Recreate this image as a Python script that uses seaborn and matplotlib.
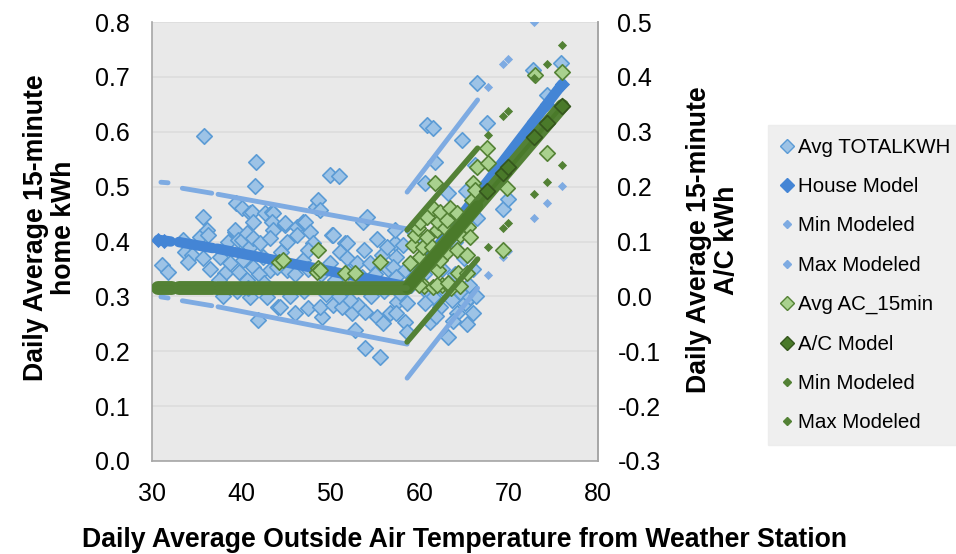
import numpy as np
import pandas as pd
import matplotlib
matplotlib.use("Agg")
import matplotlib.pyplot as plt
import seaborn as sns
from matplotlib.lines import Line2D

# ---------------- data ----------------
# Avg TOTALKWH (left axis)
tot_x = [31.1, 31.8, 33.5, 34.3, 33.7, 34.5, 35.7, 34.0, 35.4, 35.7, 36.2, 36.3, 35.8, 38.2, 37.6,
         38.5, 39.3, 39.4, 39.3, 39.6, 40.1, 40.1, 40.6, 41.0, 41.0, 41.2, 41.3, 41.3, 41.3, 40.2,
         41.5, 41.7, 42.1, 42.4, 42.7, 43.4, 43.6, 43.4, 43.6, 43.2, 43.2, 41.0, 41.9, 42.9, 44.1,
         44.9, 44.9, 45.1, 45.1, 44.0, 44.3, 36.5, 37.5, 38.8, 39.8, 40.6, 42.0, 38.0, 39.5, 40.8,
         42.5,
         46.2, 46.3, 46.9, 47.1, 47.7, 48.0, 48.4, 48.6, 48.8, 50.0, 51.0, 50.2, 50.3, 51.6, 51.9,
         51.1, 51.9, 53.0, 54.4, 55.8, 50.0, 46.9, 53.7, 54.1, 55.2, 57.2, 57.2, 46.0, 47.5, 49.1,
         48.8, 50.3, 51.3, 52.4, 53.1, 53.9, 55.2, 55.9, 56.7, 52.8, 53.9, 55.6, 52.2, 46.0, 47.5,
         49.0, 50.5, 52.0, 53.5, 55.0, 56.5, 45.5, 47.0, 49.5, 51.0, 54.5, 56.0, 57.5, 44.5, 47.5,
         53.8, 56.3,
         58.1, 57.4, 57.0, 58.4, 57.4, 57.8, 58.6, 57.4, 58.4, 58.6, 60.8, 61.5, 60.6, 62.3, 63.6,
         64.5, 65.1, 65.7, 64.2, 61.2, 63.2, 60.6, 61.7, 60.8, 61.5, 63.2, 65.2, 64.8, 66.4, 66.2,
         66.4, 67.6, 69.4, 69.9, 72.7, 75.9, 74.3, 59.3, 60.0, 61.0, 62.0, 63.0, 64.0, 65.0, 66.0,
         59.5, 60.5, 62.5, 64.0, 65.5, 66.3, 59.0, 62.8, 63.8, 65.3, 61.8, 66.0]
tot_y = [0.357, 0.344, 0.403, 0.390, 0.381, 0.375, 0.370, 0.363, 0.408, 0.445, 0.421, 0.412, 0.592, 0.343, 0.372,
         0.399, 0.417, 0.470, 0.421, 0.403, 0.461, 0.403, 0.415, 0.452, 0.390, 0.454, 0.436, 0.406, 0.354, 0.366,
         0.501, 0.545, 0.397, 0.372, 0.452, 0.454, 0.452, 0.436, 0.421, 0.348, 0.406, 0.299, 0.257, 0.299, 0.281,
         0.430, 0.434, 0.399, 0.348, 0.354, 0.281, 0.350, 0.330, 0.360, 0.345, 0.330, 0.340, 0.300, 0.310, 0.315,
         0.325,
         0.427, 0.412, 0.436, 0.436, 0.417, 0.397, 0.463, 0.476, 0.457, 0.521, 0.520, 0.412, 0.412, 0.397, 0.397,
         0.381, 0.370, 0.361, 0.361, 0.375, 0.361, 0.366, 0.436, 0.445, 0.404, 0.397, 0.421, 0.270, 0.279, 0.262,
         0.281, 0.284, 0.281, 0.270, 0.284, 0.272, 0.262, 0.251, 0.270, 0.239, 0.206, 0.190, 0.293, 0.340, 0.350,
         0.340, 0.330, 0.345, 0.335, 0.340, 0.350, 0.300, 0.310, 0.305, 0.300, 0.300, 0.310, 0.290, 0.380, 0.385,
         0.385, 0.390,
         0.394, 0.372, 0.354, 0.348, 0.335, 0.306, 0.288, 0.270, 0.253, 0.235, 0.308, 0.299, 0.288, 0.281, 0.293,
         0.308, 0.288, 0.299, 0.270, 0.253, 0.226, 0.507, 0.545, 0.612, 0.607, 0.488, 0.492, 0.585, 0.689, 0.539,
         0.443, 0.616, 0.459, 0.477, 0.713, 0.725, 0.667, 0.420, 0.400, 0.370, 0.390, 0.410, 0.400, 0.370, 0.350,
         0.350, 0.340, 0.350, 0.340, 0.320, 0.300, 0.320, 0.310, 0.255, 0.250, 0.265, 0.270]

# House Model (left axis): dense segments + sparse high-temperature points
house_x = [30.7, 32.1, 33.0, 36.8, 37.3, 58.6, 76.0]
house_y = [0.403, 0.400, 0.399, 0.388, 0.387, 0.318, 0.687]
house_seg = [0, 0, 1, 1, 2, 2, 2]
house_pts_x = [30.7, 31.4, 67.7, 69.4, 69.9, 72.8, 74.3, 76.0]
house_pts_y = [0.403, 0.401, 0.510, 0.545, 0.556, 0.619, 0.650, 0.687]

# Min / Max Modeled house (left axis)
hmin_x = [31.0, 31.8, 33.4, 36.7, 37.4, 58.6, 58.6, 66.5]
hmin_y = [0.299, 0.297, 0.292, 0.283, 0.281, 0.213, 0.151, 0.315]
hmin_seg = [0, 0, 1, 1, 2, 2, 3, 3]
hmin_pts_x = [67.7, 69.4, 69.9, 72.8, 74.3, 76.0]
hmin_pts_y = [0.339, 0.372, 0.382, 0.443, 0.470, 0.501]

hmax_x = [31.0, 31.8, 33.4, 36.7, 37.4, 58.6, 58.6, 66.5]
hmax_y = [0.508, 0.507, 0.497, 0.488, 0.486, 0.423, 0.490, 0.658]
hmax_seg = [0, 0, 1, 1, 2, 2, 3, 3]
hmax_pts_x = [67.7, 69.4, 69.9, 72.8]
hmax_pts_y = [0.682, 0.723, 0.733, 0.800]

# Avg AC_15min (right axis)
ac_x = [44.2, 44.7, 48.6, 48.6, 48.5, 48.8, 51.6, 52.8, 55.6,
        58.9, 59.0, 60.5, 61.5, 62.5, 63.5, 64.5,
        59.3, 59.5, 59.8, 60.0, 60.0, 60.4, 60.8, 60.8, 61.4, 61.5, 61.7, 62.0, 62.1, 62.1,
        62.3, 62.3, 62.9, 63.1, 63.1, 63.4, 64.2, 64.2, 64.3, 64.5, 65.3, 65.3, 65.4, 65.6,
        65.9, 66.0, 66.2, 66.4, 67.6, 67.7, 69.4, 69.8, 72.9, 74.3, 76.0, 59.9, 62.0, 63.2]
ac_y = [0.063, 0.066, 0.084, 0.052, 0.045, 0.048, 0.042, 0.042, 0.063,
        0.061, 0.025, 0.018, 0.017, 0.020, 0.015, 0.018,
        0.094, 0.112, 0.125, 0.136, 0.072, 0.090, 0.145, 0.108, 0.090, 0.161, 0.207, 0.121, 0.136, 0.048,
        0.154, 0.066, 0.125, 0.139, 0.081, 0.161, 0.152, 0.084, 0.043, 0.112, 0.075, 0.043, 0.127, 0.108,
        0.176, 0.207, 0.194, 0.236, 0.270, 0.243, 0.084, 0.197, 0.403, 0.261, 0.409, 0.021, 0.021, 0.024]

# A/C Model (right axis)
acm_x = [30.7, 32.2, 33.0, 36.8, 37.3, 58.6, 76.0]
acm_y = [0.015, 0.015, 0.015, 0.015, 0.015, 0.015, 0.347]
acm_seg = [0, 0, 1, 1, 2, 2, 2]
acm_dense_x = [58.6, 66.5]
acm_dense_y = [0.015, 0.165]
acm_pts_x = [67.6, 69.4, 69.9, 72.8, 74.3, 76.0]
acm_pts_y = [0.192, 0.225, 0.236, 0.290, 0.316, 0.347]

# Min / Max Modeled A/C (right axis)
amin_x = [30.7, 32.2, 33.0, 36.8, 37.3, 58.6, 58.6, 66.5]
amin_y = [0.015, 0.015, 0.015, 0.015, 0.015, 0.015, -0.083, 0.068]
amin_seg = [0, 0, 1, 1, 2, 2, 3, 3]
amin_pts_x = [67.7, 69.4, 69.9, 72.8, 74.3, 76.0]
amin_pts_y = [0.090, 0.125, 0.134, 0.187, 0.208, 0.239]

amax_x = [58.6, 66.5]
amax_y = [0.121, 0.270]
amax_seg = [0, 0]
amax_pts_x = [67.7, 69.4, 69.9, 72.8, 74.3, 76.0]
amax_pts_y = [0.294, 0.329, 0.338, 0.398, 0.423, 0.458]

legend_labels = ["Avg TOTALKWH", "House Model", "Min Modeled", "Max Modeled",
                 "Avg AC_15min", "A/C Model", "Min Modeled", "Max Modeled"]

# ---------------- style ----------------
sns.set_style("white")
plt.rcParams['font.family'] = ['Liberation Sans', 'DejaVu Sans']
plt.rcParams['text.color'] = 'black'
plt.rcParams['xtick.labelcolor'] = 'black'
plt.rcParams['ytick.labelcolor'] = 'black'

C_TOT_FACE = "#9DC3E6"
C_TOT_EDGE = "#5B9BD5"
C_HOUSE = "#4485D5"
C_HMM = "#7EABE2"
C_AC_FACE = "#A9D18E"
C_AC_EDGE = "#548235"
C_ACM = "#4A7A2A"
C_ACM_EDGE = "#35561D"
C_AMM = "#538135"
BG = "#E9E9E9"

fig = plt.figure(figsize=(9.56, 5.54), dpi=100)
ax = fig.add_axes([152/956, 1-461/554, (598-152)/956, (461-22)/554])
ax.set_facecolor(BG)

def seg_line(axis, x, y, seg, color, lw, zorder=2):
    df = pd.DataFrame({"x": x, "y": y, "u": seg})
    sns.lineplot(data=df, x="x", y="y", units="u", estimator=None, sort=False,
                 ax=axis, color=color, lw=lw, solid_capstyle="round", zorder=zorder,
                 legend=False)

def pts(axis, x, y, color, s, edge=None, lw=0, zorder=3):
    sns.scatterplot(x=x, y=y, ax=axis, marker="D", s=s, color=color,
                    edgecolor=edge if edge else color, linewidth=lw, zorder=zorder,
                    legend=False)

# primary axis
pts(ax, tot_x, tot_y, C_TOT_FACE, 62, C_TOT_EDGE, 1.2, zorder=2)
seg_line(ax, house_x, house_y, house_seg, C_HOUSE, 7.5, zorder=3)
pts(ax, house_pts_x, house_pts_y, C_HOUSE, 60, zorder=3)
seg_line(ax, hmin_x, hmin_y, hmin_seg, C_HMM, 3.5, zorder=4)
pts(ax, hmin_pts_x, hmin_pts_y, C_HMM, 22, zorder=4)
seg_line(ax, hmax_x, hmax_y, hmax_seg, C_HMM, 3.5, zorder=4)
pts(ax, hmax_pts_x, hmax_pts_y, C_HMM, 22, zorder=4)

ax.set_xlim(30, 80)
ax.set_ylim(0, 0.8)
ax.set_xticks([30, 40, 50, 60, 70, 80])
ax.set_yticks(np.arange(0, 0.81, 0.1))
ax.set_yticklabels([f"{v:.1f}" for v in np.arange(0, 0.81, 0.1)])
ax.grid(axis="y", color="#DCDCDC", lw=1.2)
ax.set_axisbelow(True)
ax.set_xlabel("")
ax.set_ylabel("")
ax.spines["top"].set_visible(False)
for sp in ["left", "bottom", "right"]:
    ax.spines[sp].set_color("#A6A6A6")
    ax.spines[sp].set_linewidth(1.2)
ax.tick_params(axis="x", direction="out", length=6, color="#A6A6A6", width=1.2,
               labelsize=18, pad=9)
ax.tick_params(axis="y", length=0, labelsize=18, pad=16)

# secondary axis
ax2 = ax.twinx()
ax2.set_facecolor("none")
pts(ax2, ac_x, ac_y, C_AC_FACE, 62, C_AC_EDGE, 1.2, zorder=2)
seg_line(ax2, acm_x, acm_y, acm_seg, C_AMM, 10, zorder=3)
# dark diamond texture along the flat band
seg_line(ax2, acm_x[:6], acm_y[:6], acm_seg[:6], C_ACM_EDGE, 3, zorder=4)
seg_line(ax2, acm_dense_x, acm_dense_y, [0, 0], C_ACM, 8, zorder=4)
seg_line(ax2, acm_x[5:], acm_y[5:], [0, 0], C_ACM, 3, zorder=4)
pts(ax2, acm_pts_x, acm_pts_y, C_ACM, 65, C_ACM_EDGE, 1.2, zorder=5)
seg_line(ax2, amin_x, amin_y, amin_seg, C_AMM, 4, zorder=5)
pts(ax2, amin_pts_x, amin_pts_y, C_AMM, 22, zorder=5)
seg_line(ax2, amax_x, amax_y, amax_seg, C_AMM, 4, zorder=5)
pts(ax2, amax_pts_x, amax_pts_y, C_AMM, 22, zorder=5)

ax2.set_ylim(-0.3, 0.5)
ax2.set_yticks(np.arange(-0.3, 0.51, 0.1))
ax2.set_yticklabels([f"{v:.1f}" if abs(v) > 1e-9 else "0.0" for v in np.arange(-0.3, 0.51, 0.1)])
ax2.set_ylabel("")
ax2.tick_params(axis="y", length=0, labelsize=18, pad=14)
for sp in ["top", "left", "bottom"]:
    ax2.spines[sp].set_visible(False)
ax2.spines["right"].set_color("#A6A6A6")
ax2.spines["right"].set_linewidth(1.2)

# axis titles
fig.text(50/956, 1-228/554, "Daily Average 15-minute\nhome kWh", rotation=90,
         ha="center", va="center", fontsize=19.2, fontweight="bold", multialignment="center",
         linespacing=1.1)
fig.text(713/956, 1-240/554, "Daily Average 15-minute\nA/C kWh", rotation=90,
         ha="center", va="center", fontsize=19.2, fontweight="bold", multialignment="center",
         linespacing=1.1)
fig.text(465/956, 1-540/554, "Daily Average Outside Air Temperature from Weather Station",
         ha="center", va="center", fontsize=19.2, fontweight="bold")

# legend
handles = [
    Line2D([], [], ls="none", marker="D", ms=7, mfc=C_TOT_FACE, mec=C_TOT_EDGE, mew=1),
    Line2D([], [], ls="none", marker="D", ms=7, mfc=C_HOUSE, mec=C_HOUSE),
    Line2D([], [], ls="none", marker="D", ms=4, mfc=C_HMM, mec=C_HMM),
    Line2D([], [], ls="none", marker="D", ms=4, mfc=C_HMM, mec=C_HMM),
    Line2D([], [], ls="none", marker="D", ms=7, mfc=C_AC_FACE, mec=C_AC_EDGE, mew=1),
    Line2D([], [], ls="none", marker="D", ms=7, mfc=C_ACM, mec=C_ACM_EDGE),
    Line2D([], [], ls="none", marker="D", ms=4, mfc=C_AMM, mec=C_AMM),
    Line2D([], [], ls="none", marker="D", ms=4, mfc=C_AMM, mec=C_AMM),
]
leg = fig.legend(handles, legend_labels, loc="upper left",
                 bbox_to_anchor=(768/956, 1-125/554), frameon=True, fontsize=14.8,
                 handlelength=0.6, handletextpad=0.22, labelspacing=0.99,
                 borderpad=0.62, borderaxespad=0)
leg.get_frame().set_facecolor("#EBEBEB")
leg.get_frame().set_edgecolor("#EBEBEB")
leg.get_frame().set_boxstyle("square", pad=0)

fig.savefig("out.png", dpi=100)
